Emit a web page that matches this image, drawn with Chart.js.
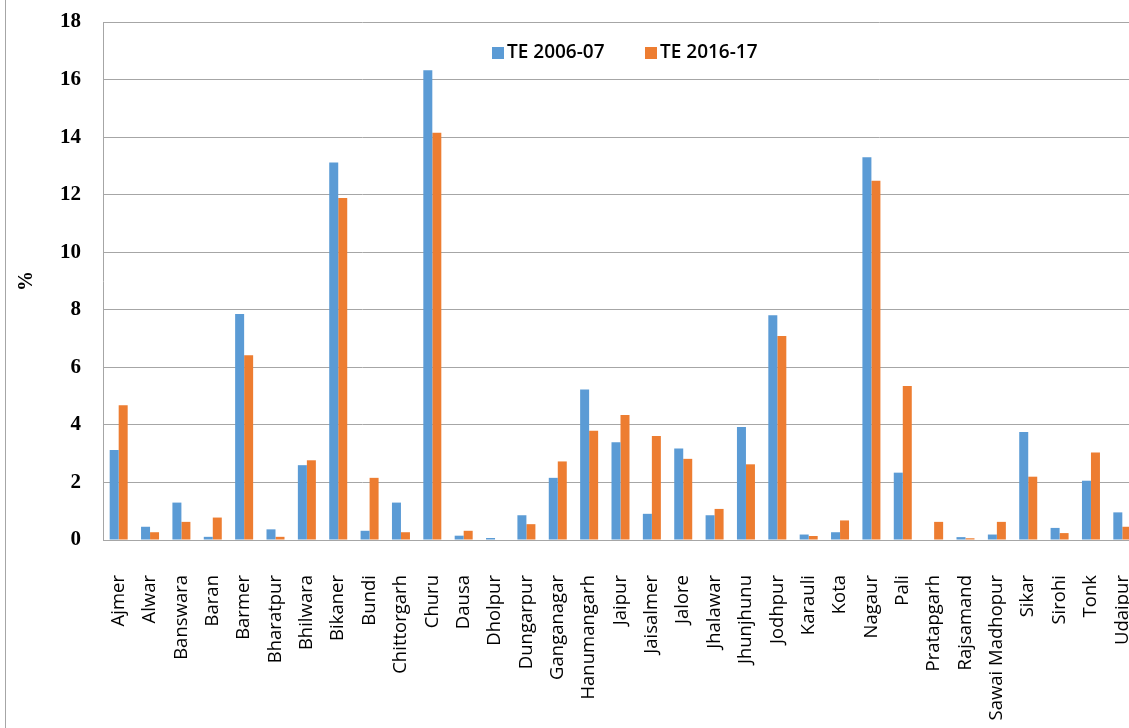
<!DOCTYPE html>
<html>
<head>
<meta charset="utf-8">
<script src="https://cdn.jsdelivr.net/npm/chart.js@4/dist/chart.umd.min.js"></script>
<style>
  html, body { margin: 0; padding: 0; background: #ffffff; overflow: hidden; }
  #wrap { position: relative; width: 1160px; height: 728px; }
  #frame { position: absolute; left: 5px; top: 0; width: 0; height: 728px; border-left: 1px solid #a6a6a6; }
  canvas { position: absolute; left: 0; top: 0; }
</style>
</head>
<body>
<div id="wrap">
  <canvas id="chart" width="1160" height="728"></canvas>
  <div id="frame"></div>
</div>
<script>
// District names (Rajasthan)
const districts = [
  "Ajmer", "Alwar", "Banswara", "Baran", "Barmer", "Bharatpur", "Bhilwara",
  "Bikaner", "Bundi", "Chittorgarh", "Churu", "Dausa", "Dholpur", "Dungarpur",
  "Ganganagar", "Hanumangarh", "Jaipur", "Jaisalmer", "Jalore", "Jhalawar",
  "Jhunjhunu", "Jodhpur", "Karauli", "Kota", "Nagaur", "Pali", "Pratapgarh",
  "Rajsamand", "Sawai Madhopur", "Sikar", "Sirohi", "Tonk", "Udaipur"
];

// Share (%) of each district, triennium ending 2006-07
const te200607 = [
  3.13, 0.46, 1.30, 0.11, 7.85, 0.37, 2.60,
  13.12, 0.32, 1.30, 16.32, 0.15, 0.07, 0.86,
  2.16, 5.23, 3.40, 0.91, 3.18, 0.86,
  3.93, 7.81, 0.19, 0.27, 13.30, 2.34, 0,
  0.10, 0.19, 3.75, 0.42, 2.06, 0.96
];

// Share (%) of each district, triennium ending 2016-17
const te201617 = [
  4.68, 0.27, 0.63, 0.78, 6.42, 0.11, 2.77,
  11.88, 2.16, 0.27, 14.15, 0.32, 0, 0.55,
  2.73, 3.80, 4.34, 3.61, 2.82, 1.08,
  2.63, 7.09, 0.14, 0.68, 12.48, 5.35, 0.63,
  0.06, 0.63, 2.20, 0.24, 3.04, 0.46
];

const seriesNames = ["TE 2006-07", "TE 2016-17"];
const yTicks = [0, 2, 4, 6, 8, 10, 12, 14, 16, 18];

const BLUE = "#5b9bd5";
const ORANGE = "#ed7d31";
const GRID = "#a6a6a6";

// Legend drawn inside the plot area, below the top gridline
const innerLegend = {
  id: "innerLegend",
  afterDraw(chart) {
    const ctx = chart.ctx;
    const items = [
      { x: 492, color: BLUE, text: chart.data.datasets[0].label },
      { x: 645, color: ORANGE, text: chart.data.datasets[1].label }
    ];
    ctx.save();
    ctx.font = "600 19px 'Open Sans'";
    ctx.textBaseline = "middle";
    ctx.textAlign = "left";
    items.forEach(it => {
      ctx.fillStyle = it.color;
      ctx.fillRect(it.x, 47, 12, 12);
      ctx.fillStyle = "#000000";
      ctx.fillText(it.text, it.x + 15, 53);
    });
    ctx.restore();
  }
};

new Chart(document.getElementById("chart"), {
  type: "bar",
  data: {
    labels: districts,
    datasets: [
      { label: seriesNames[0], data: te200607, backgroundColor: BLUE,
        categoryPercentage: 0.574, barPercentage: 1.0 },
      { label: seriesNames[1], data: te201617, backgroundColor: ORANGE,
        categoryPercentage: 0.574, barPercentage: 1.0 }
    ]
  },
  options: {
    responsive: false,
    animation: false,
    layout: { padding: { left: 6, right: 22, top: 22, bottom: 0 } },
    plugins: {
      legend: { display: false },
      tooltip: { enabled: false }
    },
    scales: {
      x: {
        grid: { display: false, drawTicks: false },
        border: { display: true, color: GRID, width: 1 },
        ticks: {
          autoSkip: false,
          minRotation: 90,
          maxRotation: 90,
          padding: 35,
          color: "#000000",
          font: { family: "'Open Sans'", size: 18.5 }
        },
        afterFit(scale) {
          scale.height = 188;
          scale.paddingLeft = 0;
          scale.paddingRight = 0;
        }
      },
      y: {
        min: 0,
        max: 18,
        afterBuildTicks(scale) { scale.ticks = yTicks.map(v => ({ value: v })); },
        grid: { color: GRID, lineWidth: 1, drawTicks: false },
        border: { display: true, color: GRID, width: 1 },
        ticks: {
          padding: 22,
          color: "#000000",
          font: { family: "'Liberation Serif'", size: 21, weight: "bold" }
        },
        title: {
          display: true,
          text: "%",
          color: "#000000",
          padding: { top: 9, bottom: 0 },
          font: { family: "'Liberation Serif'", size: 20, weight: "bold" }
        },
        afterFit(scale) {
          scale.width = 97;
          scale.paddingTop = 0;
          scale.paddingBottom = 0;
        }
      }
    }
  },
  plugins: [innerLegend]
});
</script>
</body>
</html>
